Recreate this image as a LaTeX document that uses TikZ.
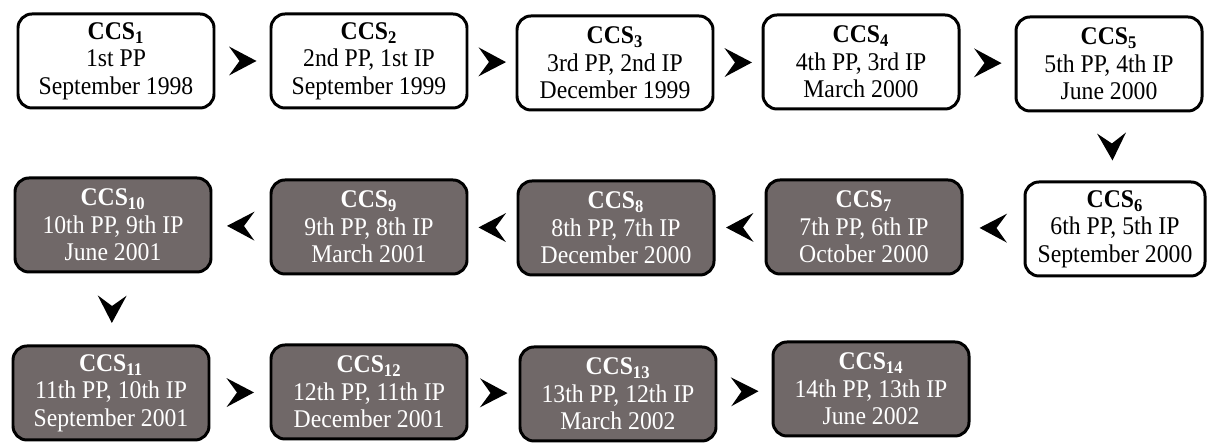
\documentclass[tikz,border=0pt]{standalone}
\usepackage{fontspec}
\setmainfont{Liberation Serif}[FakeStretch=0.93]
\usetikzlibrary{positioning,arrows,calc,decorations.markings}
\definecolor{ccsgray}{RGB}{112,104,104}
\tikzset{
    stage/.style = {
        draw,
        shape=rectangle,
        rounded corners=0.28cm,
        minimum height=1.88cm,
        minimum width=3.92cm,
        line width=1.7pt,
        align=center,
        inner sep=1pt,
        font=\fontsize{14.5}{15.6}\selectfont
    },
    done/.style = {
        stage,
        fill=white,
        text=black
    },
    later/.style = {
        stage,
        fill=ccsgray,
        text=white
    },
    chev/.style = {
        decoration={markings,
            mark=at position 0.5 with {\fill[black] (0.28,0) -- (-0.27,0.29) -- (-0.06,0) -- (-0.27,-0.29) -- cycle;}},
        decorate
    },
}

\begin{document}
\begin{tikzpicture}
            \useasboundingbox (0,0) rectangle (24.18,8.9);
            % first row
            \node[done] (c1) at (2.32,7.68) {\textbf{CCS\textsubscript{1}}\\1st PP\\September 1998};
            \node[done] (c2) at (7.38,7.68) {\textbf{CCS\textsubscript{2}}\\2nd PP, 1st IP\\September 1999};
            \node[done] (c3) at (12.30,7.64) {\textbf{CCS\textsubscript{3}}\\3rd PP, 2nd IP\\December 1999};
            \node[done] (c4) at (17.22,7.66) {\textbf{CCS\textsubscript{4}}\\4th PP, 3rd IP\\March 2000};
            \node[done, minimum width=3.72cm] (c5) at (22.18,7.62) {\textbf{CCS\textsubscript{5}}\\5th PP, 4th IP\\June 2000};
            % second row
            \node[done, minimum width=3.6cm] (c6) at (22.30,4.32) {\textbf{CCS\textsubscript{6}}\\6th PP, 5th IP\\September 2000};
            \node[later] (c7) at (17.28,4.36) {\textbf{CCS\textsubscript{7}}\\7th PP, 6th IP\\October 2000};
            \node[later] (c8) at (12.32,4.34) {\textbf{CCS\textsubscript{8}}\\8th PP, 7th IP\\December 2000};
            \node[later] (c9) at (7.38,4.36) {\textbf{CCS\textsubscript{9}}\\9th PP, 8th IP\\March 2001};
            \node[later] (c10) at (2.26,4.40) {\textbf{CCS\textsubscript{10}}\\10th PP, 9th IP\\June 2001};
            % third row
            \node[later] (c11) at (2.22,1.04) {\textbf{CCS\textsubscript{11}}\\11th PP, 10th IP\\September 2001};
            \node[later] (c12) at (7.38,1.06) {\textbf{CCS\textsubscript{12}}\\12th PP, 11th IP\\December 2001};
            \node[later] (c13) at (12.36,1.02) {\textbf{CCS\textsubscript{13}}\\13th PP, 12th IP\\March 2002};
            \node[later] (c14) at (17.42,1.12) {\textbf{CCS\textsubscript{14}}\\14th PP, 13th IP\\June 2002};

            \path[chev] (c1) -- (c2);
            \path[chev] (c2) -- (c3);
            \path[chev] (c3) -- (c4);
            \path[chev] (c4) -- (c5);
            \path[chev] (c5) -- (c6);
            \path[chev] (c6) -- (c7);
            \path[chev] (c7) -- (c8);
            \path[chev] (c8) -- (c9);
            \path[chev] (c9) -- (c10);
            \path[chev] (c10) -- (c11);
            \path[chev] (c11) -- (c12);
            \path[chev] (c12) -- (c13);
            \path[chev] (c13) -- (c14);
        \end{tikzpicture}
\end{document}
